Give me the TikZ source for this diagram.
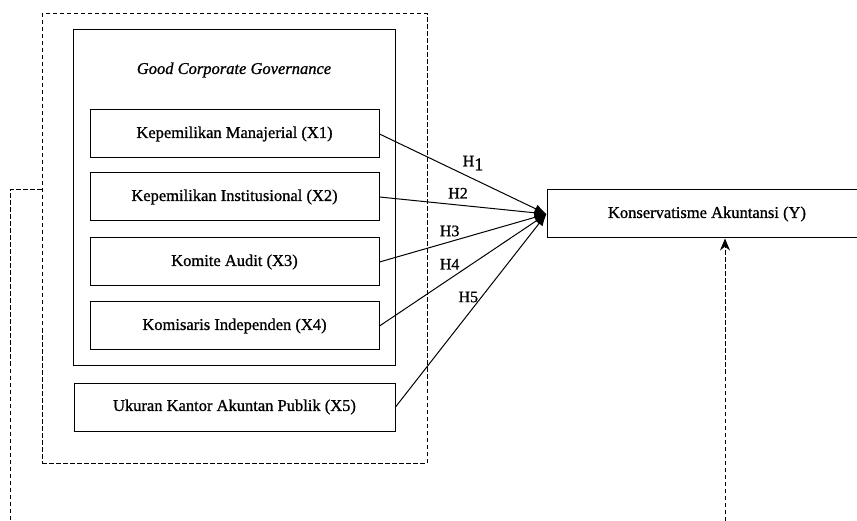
\documentclass[tikz,border=0pt]{standalone}
\usepackage{fontspec}
\setmainfont{Liberation Serif}[BoldFont=Liberation Serif, BoldFeatures={FakeBold=1.0}, BoldItalicFont=Liberation Serif Italic, BoldItalicFeatures={FakeBold=1.0}]
\usepackage{tikz}
\usetikzlibrary{arrows.meta}

\begin{document}
\begin{tikzpicture}[x=1pt, y=-1pt, line width=1pt]
        \tikzstyle{var}=[rectangle,draw=black,minimum width=289pt,minimum height=48pt,inner sep=0pt,font=\fontsize{16.5}{19}\selectfont\bfseries]
        \tikzstyle{hyp}=[font=\fontsize{16}{19}\selectfont\bfseries,inner sep=1pt]
        \tikzstyle{dashline}=[dash pattern=on 4.5pt off 2.5pt]
        \useasboundingbox (0,0) rectangle (857,521);
        \clip (0,0) rectangle (857,521);

        % Draw the outer dashed frame and the GCG group
        \node[rectangle,draw=black,dashline,minimum width=385pt,minimum height=449pt] (outer) at (234.5,238.5) {};
        \node[rectangle,draw=black,minimum width=322pt,minimum height=336pt] (gcg) at (234,198) {};
        \node[font=\fontsize{16.5}{19}\selectfont\bfseries\itshape] (gcgtitle) at (234,70) {Good Corporate Governance};

        % Draw the independent variables
        \foreach \name / \y / \txt in {1/134/Kepemilikan Manajerial (X1),
                                       2/197/Kepemilikan Institusional (X2),
                                       3/262/Komite Audit (X3),
                                       4/326/Komisaris Independen (X4)}
            \node[var] (X\name) at (234.5,\y) {\txt};
        \node[var, minimum width=321pt] (X5) at (234.5,407) {Ukuran Kantor Akuntan Publik (X5)};

        % Draw the dependent variable
        \node[var, minimum width=320pt] (Y) at (707,214) {Konservatisme Akuntansi (Y)};

        % Connect every independent variable with the dependent variable
        \draw[-{Latex[length=12pt,width=9pt]}] (X1.east) -- node[hyp, pos=0.56, above=7pt] {H\raisebox{-4pt}{\fontsize{18}{19}\selectfont 1}} (Y.west);
        \draw[-{Latex[length=12pt,width=9pt]}] (X2.east) -- node[hyp, pos=0.47, above=5pt] {H2} (Y.west);
        \draw[-{Latex[length=12pt,width=9pt]}] (X3.east) -- node[hyp, pos=0.42, above=4pt] {H3} (Y.west);
        \draw[-{Latex[length=12pt,width=9pt]}] (X4.east) -- node[hyp, pos=0.42, above=8pt] {H4} (Y.west);
        \draw[-{Latex[length=12pt,width=9pt]}] (X5.east) -- node[hyp, pos=0.57, left=2pt] {H5} (Y.west);

        % Dashed links leaving the picture at the bottom
        \coordinate (lc) at (10,190);
        \coordinate (lb) at (10,521);
        \coordinate (rb) at (725,521);
        \draw[dashline] (lc -| outer.west) -- (lc) -- (lb);
        \draw[dashline, -{Stealth[length=12pt,width=10pt,inset=4pt]}] (rb) -- (rb |- Y.south);
    \end{tikzpicture}
\end{document}
